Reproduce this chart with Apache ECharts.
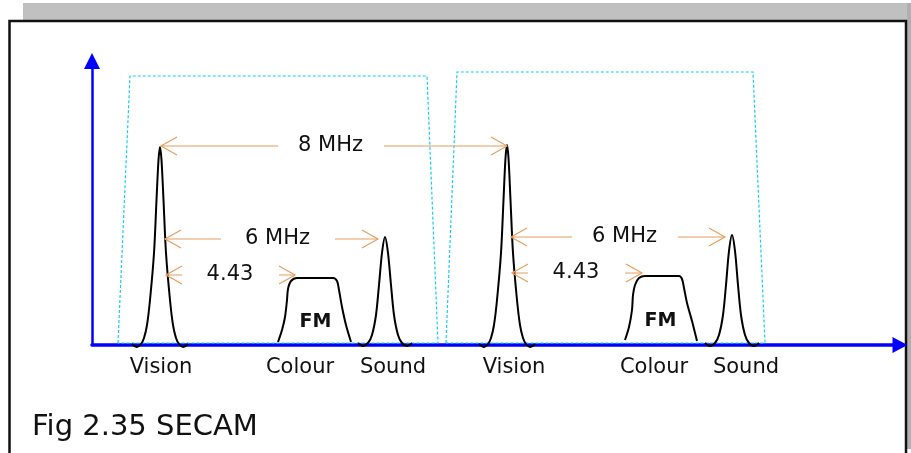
<!DOCTYPE html>
<html>
<head>
<meta charset="utf-8">
<script src="https://cdn.jsdelivr.net/npm/echarts@6/dist/echarts.min.js"></script>
<style>
  html, body { margin: 0; padding: 0; background: #fff; }
  #chart { width: 911px; height: 453px; }
</style>
</head>
<body>
<div id="chart"></div>
<script>
// spectrum shapes, x along the frequency axis, y = amplitude
const visionA = [[40,1],[45,-2],[49,1],[52,7],[55,20],[58,45],[62,92],[64.5,145],[66.5,185],[68,198],[69.5,185],[71.5,145],[74,92],[78,45],[81,20],[84,7],[87,1],[91,-2],[96,1]];
const colourA = [[186,3],[190,15],[193,28],[195,45],[196,56],[199,64],[205,67],[241,67],[245,64],[247,55],[250,38],[254,20],[259,3]];
const soundA = [[266,2],[271,-1],[276,2],[280,10],[284,30],[287,60],[290,92],[293,108],[296,92],[299,60],[302,30],[306,10],[310,2],[315,-1],[320,2]];
const visionB = [[387,1],[392,-2],[396,1],[399,7],[402,20],[405,45],[409,92],[411.5,145],[413.5,187],[415,200],[416.5,187],[418.5,145],[421,92],[425,45],[428,20],[431,7],[434,1],[438,-2],[443,1]];
const colourB = [[533,5],[537,18],[540,35],[541,50],[543,60],[547,67],[553,69],[587,69],[590,66],[592,57],[595,42],[600,24],[605,4]];
const soundB = [[613,2],[618,-1],[623,2],[627,10],[631,30],[634,60],[637,94],[640,110],[643,94],[646,60],[649,30],[653,10],[657,2],[662,-1],[667,2]];

// channel bands (dotted trapezoids)
const bandA = [[26,2],[38,269],[335,269],[346,2],[26,2]];
const bandB = [[354,2],[365,273],[661,273],[673,2],[354,2]];

// carrier labels under the axis
const axisNames = ['Vision', 'Colour', 'Sound', 'Vision', 'Colour', 'Sound'];
const axisNameAt = [69, 208, 301, 422, 562, 654];

// spacing arrows
const spanText = ['8 MHz', '6 MHz', '4.43', '6 MHz', '4.43'];
const spanLevel = [199, 106, 70, 108, 72];
const spanFrom = [69, 73, 74, 419, 420];
const spanGapL = [186, 129, 90, 480, 436];
const spanGapR = [292, 243, 187, 586, 533];
const spanTo = [415, 286, 203, 633, 550];

const fmText = ['FM', 'FM'];
const fmAt = [[224, 22], [569, 23]];

const FONT = 'DejaVu Sans';
const HEAD_L = 16, HEAD_W = 9;

const arrowLines = [];
const arrowLabels = [];
spanText.forEach((t, i) => {
  const y = spanLevel[i];
  const a = spanFrom[i], b = spanTo[i];
  arrowLines.push({ coords: [[spanGapL[i], y], [a, y]] });
  arrowLines.push({ coords: [[a + HEAD_L, y + HEAD_W], [a, y], [a + HEAD_L, y - HEAD_W]] });
  arrowLines.push({ coords: [[spanGapR[i], y], [b, y]] });
  arrowLines.push({ coords: [[b - HEAD_L, y + HEAD_W], [b, y], [b - HEAD_L, y - HEAD_W]] });
  arrowLabels.push({ name: t, value: [(spanGapL[i] + spanGapR[i]) / 2, y] });
});

const shapeSeries = [visionA, colourA, soundA, visionB, colourB, soundB].map(d => ({
  type: 'line',
  data: d,
  smooth: 0.3,
  showSymbol: false,
  clip: false,
  silent: true,
  lineStyle: { color: '#000', width: 2 },
  z: 3
}));

const textLabel = (size, weight) => ({
  show: true,
  position: [0, 0],
  align: 'center',
  verticalAlign: 'middle',
  formatter: '{b}',
  fontFamily: FONT,
  fontSize: size,
  fontWeight: weight,
  color: '#111',
  textBorderWidth: 0,
  opacity: 1
});

const chart = echarts.init(document.getElementById('chart'));
chart.setOption({
  animation: false,
  title: {
    text: 'Fig 2.35 SECAM',
    left: 27,
    top: 408,
    textStyle: { fontFamily: FONT, fontSize: 29, fontWeight: 'normal', color: '#111' }
  },
  graphic: [
    { type: 'rect', shape: { x: 23, y: 3, width: 888, height: 17 }, style: { fill: '#c0c0c0' }, silent: true },
    { type: 'rect', shape: { x: 907, y: 3, width: 4, height: 446 }, style: { fill: '#b0b0b0' }, silent: true },
    { type: 'polyline', shape: { points: [[9.5, 453], [9.5, 21], [906, 21], [906, 453]] },
      style: { stroke: '#111', lineWidth: 2.5, fill: null }, silent: true }
  ],
  grid: { left: 92, top: 61, width: 808, height: 284 },
  xAxis: {
    type: 'value', min: 0, max: 808,
    axisLine: {
      show: true, onZero: false,
      symbol: ['none', 'triangle'], symbolSize: [16, 15],
      lineStyle: { color: '#0000ff', width: 3.5 }
    },
    axisTick: { show: false },
    splitLine: { show: false },
    axisLabel: {
      customValues: axisNameAt,
      margin: 12,
      fontFamily: FONT, fontSize: 21, color: '#111',
      formatter: v => axisNames[axisNameAt.indexOf(v)] || ''
    }
  },
  yAxis: {
    type: 'value', min: 0, max: 284,
    axisLine: {
      show: true, onZero: false,
      symbol: ['none', 'triangle'], symbolSize: [16, 16],
      lineStyle: { color: '#0000ff', width: 2.5 }
    },
    axisTick: { show: false },
    splitLine: { show: false },
    axisLabel: { show: false }
  },
  series: [
    {
      type: 'lines', coordinateSystem: 'cartesian2d', polyline: true, silent: true,
      data: [{ coords: bandA }, { coords: bandB }],
      lineStyle: { color: '#11ccff', width: 1.2, type: [3, 2], opacity: 1 },
      z: 1
    },
    ...shapeSeries,
    {
      type: 'lines', coordinateSystem: 'cartesian2d', polyline: true, silent: true,
      data: arrowLines,
      lineStyle: { color: '#e89e5e', width: 1.2, opacity: 1 },
      z: 4
    },
    {
      type: 'scatter', data: arrowLabels, symbolSize: 1, silent: true, clip: false,
      itemStyle: { color: '#fff' },
      label: textLabel(21, 'normal'),
      z: 5
    },
    {
      type: 'scatter', data: fmAt.map((p, i) => ({ name: fmText[i], value: p })),
      symbolSize: 1, silent: true, clip: false,
      itemStyle: { color: '#fff' },
      label: textLabel(19, 'bold'),
      z: 5
    }
  ]
});
</script>
</body>
</html>
